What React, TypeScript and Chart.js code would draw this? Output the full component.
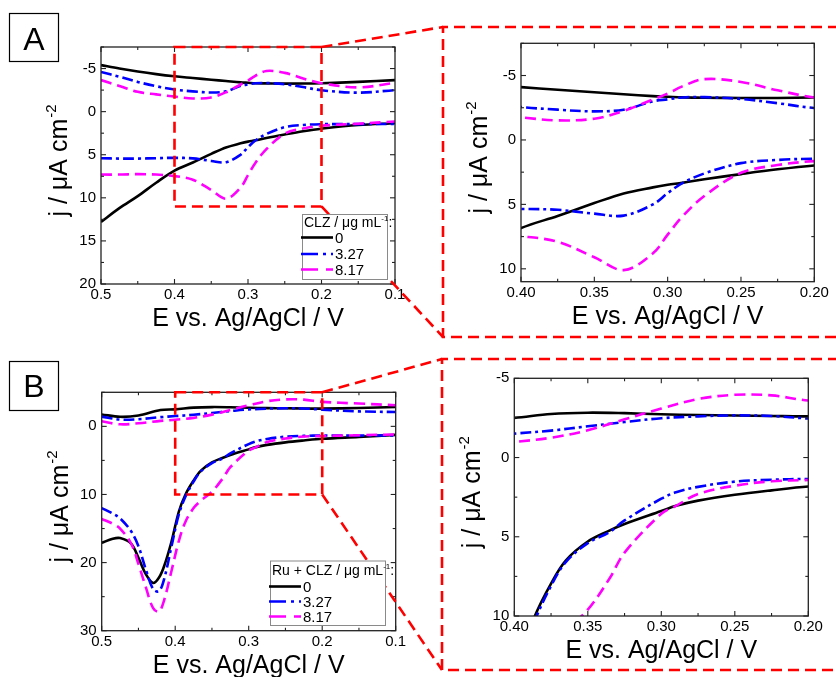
import React, { useEffect, useRef } from "react";
import { Chart, registerables } from "chart.js";
Chart.register(...registerables);

const FONT = "'Liberation Sans', Arial, Helvetica, sans-serif";

// ---------- series meta ----------
const SERIES_LABELS = ["0", "3.27", "8.17"];
const SERIES_COLORS = ["#000000", "#0000ff", "#ff00ff"];
const SERIES_DASHES: number[][] = [[], [11, 4, 3, 4], [11, 6]];
const LEGEND_DASHES: number[][] = [[], [17, 5, 3, 5], [17, 8]];

// ---------- Panel A (CLZ) ----------
const A_E = [0.5, 0.475, 0.45, 0.425, 0.4, 0.375, 0.35, 0.33, 0.31, 0.3, 0.29, 0.275, 0.25, 0.225, 0.2, 0.15, 0.1];
const A_UP_0 = [-5.4, -5.0, -4.65, -4.35, -4.1, -3.9, -3.7, -3.55, -3.4, -3.35, -3.3, -3.28, -3.25, -3.26, -3.3, -3.45, -3.66];
const A_DN_0 = [12.8, 11.2, 9.8, 8.25, 6.84, 5.9, 4.9, 4.15, 3.68, 3.48, 3.33, 3.05, 2.65, 2.28, 1.98, 1.55, 1.34];
const A_UP_1 = [-4.6, -4.05, -3.45, -2.95, -2.56, -2.35, -2.22, -2.35, -3.0, -3.15, -3.3, -3.32, -3.18, -2.85, -2.48, -2.2, -2.5];
const A_DN_1 = [5.4, 5.45, 5.45, 5.4, 5.36, 5.42, 5.72, 5.87, 5.0, 4.13, 3.35, 2.6, 1.8, 1.55, 1.46, 1.45, 1.42];
const A_UP_2 = [-3.66, -2.97, -2.3, -2.0, -1.75, -1.52, -1.65, -2.25, -3.15, -3.6, -4.16, -4.72, -4.5, -3.85, -3.3, -2.82, -3.35];
const A_DN_2 = [7.3, 7.3, 7.25, 7.3, 7.48, 7.9, 9.1, 10.1, 8.8, 7.35, 5.95, 4.35, 2.55, 1.95, 1.64, 1.4, 1.15];

// ---------- Panel B (Ru + CLZ) ----------
const B_E_UP = [0.5, 0.475, 0.45, 0.42, 0.4, 0.375, 0.35, 0.325, 0.3, 0.275, 0.25, 0.225, 0.2, 0.15, 0.1];
const B_UP_0 = [-1.75, -1.4, -1.6, -2.4, -2.5, -2.75, -2.83, -2.8, -2.73, -2.68, -2.65, -2.62, -2.6, -2.7, -2.85];
const B_UP_1 = [-1.43, -1.0, -1.05, -1.35, -1.51, -1.7, -1.97, -2.24, -2.48, -2.6, -2.66, -2.62, -2.46, -2.2, -2.1];
const B_UP_2 = [-0.75, -0.3, -0.45, -0.8, -0.98, -1.25, -1.72, -2.41, -3.09, -3.69, -3.96, -3.92, -3.6, -3.35, -3.1];
const B_E_DN = [0.5, 0.485, 0.475, 0.46, 0.45, 0.44, 0.43, 0.422, 0.415, 0.405, 0.395, 0.386, 0.375, 0.365, 0.35, 0.335, 0.325, 0.3, 0.29, 0.275, 0.25, 0.225, 0.2, 0.15, 0.1];
const B_DN_0 = [17.1, 16.5, 16.4, 17.2, 19.3, 21.7, 23.0, 22.2, 20.5, 16.9, 12.5, 10.0, 7.95, 6.5, 5.3, 4.6, 4.2, 3.38, 3.05, 2.72, 2.35, 2.07, 1.83, 1.55, 1.25];
const B_DN_1 = [12.0, 12.8, 13.5, 15.4, 17.6, 21.0, 23.9, 24.2, 22.4, 17.6, 12.9, 10.3, 8.1, 6.6, 5.4, 4.69, 3.97, 2.6, 2.19, 1.85, 1.52, 1.4, 1.35, 1.35, 1.32];
const B_DN_2 = [13.6, 14.3, 15.0, 17.2, 20.2, 23.6, 26.7, 27.2, 25.5, 21.2, 16.8, 14.0, 12.0, 10.9, 9.6, 7.6, 6.0, 3.55, 3.05, 2.3, 1.78, 1.5, 1.42, 1.3, 1.18];

// ---------- axes ----------
const MAIN_X_RANGE = [0.1, 0.5];
const ZOOM_X_RANGE = [0.2, 0.4];
const MAIN_X_TICKS = [0.5, 0.4, 0.3, 0.2, 0.1];
const ZOOM_X_TICKS = [0.4, 0.35, 0.3, 0.25, 0.2];
const A_MAIN_Y_RANGE = [-7.5, 20];
const A_MAIN_Y_TICKS = [-5, 0, 5, 10, 15, 20];
const A_ZOOM_Y_RANGE = [-7.5, 11];
const A_ZOOM_Y_TICKS = [-5, 0, 5, 10];
const B_MAIN_Y_RANGE = [-5, 30];
const B_MAIN_Y_TICKS = [0, 10, 20, 30];
const B_ZOOM_Y_RANGE = [-5, 10];
const B_ZOOM_Y_TICKS = [-5, 0, 5, 10];

const X_TITLE = "E vs. Ag/AgCl / V";
const Y_TITLE = "j / \u03bcA cm";
const Y_TITLE_SUP = "-2";

type Branch = { e: number[]; j: number[] };
const A_SERIES: Branch[][] = [
  [{ e: A_E, j: A_DN_0 }, { e: A_E, j: A_UP_0 }],
  [{ e: A_E, j: A_DN_1 }, { e: A_E, j: A_UP_1 }],
  [{ e: A_E, j: A_DN_2 }, { e: A_E, j: A_UP_2 }],
];
const B_SERIES: Branch[][] = [
  [{ e: B_E_DN, j: B_DN_0 }, { e: B_E_UP, j: B_UP_0 }],
  [{ e: B_E_DN, j: B_DN_1 }, { e: B_E_UP, j: B_UP_1 }],
  [{ e: B_E_DN, j: B_DN_2 }, { e: B_E_UP, j: B_UP_2 }],
];

interface LegendSpec { title: string; x: number; y: number; w: number; h: number; titleDy: number; rowDy: number[] }
interface DecorSpec { zoomX: number[]; zoomY: number[]; frame: { l: number; t: number; b: number }; label: { text: string; x: number; y: number; w: number; h: number; base: number } }
interface PanelSpec {
  w: number; h: number;
  area: { l: number; t: number; r: number; b: number };
  xRange: number[]; xTicks: number[]; xDec: number;
  yRange: number[]; yTicks: number[];
  series: Branch[][];
  legend?: LegendSpec;
  decor?: DecorSpec;
}

function minorOf(major: number[], range: number[]) {
  const step = Math.abs(major[1] - major[0]) / 2;
  const lo = Math.min(range[0], range[1]), hi = Math.max(range[0], range[1]);
  const out: number[] = [];
  for (let k = -60; k <= 60; k++) {
    if (k % 2 === 0) continue;
    const v = major[0] + k * step;
    if (v >= lo - 1e-9 && v <= hi + 1e-9) out.push(v);
  }
  return out;
}

function seg(ctx: CanvasRenderingContext2D, x1: number, y1: number, x2: number, y2: number) {
  ctx.beginPath(); ctx.moveTo(x1, y1); ctx.lineTo(x2, y2); ctx.stroke();
}

function makeConfig(spec: PanelSpec): any {
  const datasets: any[] = [];
  spec.series.forEach((s, i) => {
    s.forEach((b) => {
      datasets.push({
        data: b.e.map((e, k) => ({ x: e, y: b.j[k] })),
        borderColor: SERIES_COLORS[i],
        borderWidth: 2.6,
        borderDash: SERIES_DASHES[i],
        pointRadius: 0,
        pointHoverRadius: 0,
        fill: false,
        tension: 0.35,
        order: 3 - i,
      });
    });
  });

  const plugin = {
    id: "panelDecor",
    afterDraw(chart: any) {
      const { ctx, chartArea: a, scales } = chart;
      const x = scales.x, y = scales.y;
      ctx.save();
      // frame
      ctx.setLineDash([]);
      ctx.strokeStyle = "#222";
      ctx.lineWidth = 1.3;
      ctx.strokeRect(a.left, a.top, a.right - a.left, a.bottom - a.top);
      ctx.lineWidth = 1.1;
      const xt = (vals: number[], len: number) => vals.forEach((v) => {
        const p = x.getPixelForValue(v);
        seg(ctx, p, a.bottom, p, a.bottom - len);
        seg(ctx, p, a.top, p, a.top + len);
      });
      const yt = (vals: number[], len: number) => vals.forEach((v) => {
        const p = y.getPixelForValue(v);
        seg(ctx, a.left, p, a.left + len, p);
        seg(ctx, a.right, p, a.right - len, p);
      });
      xt(spec.xTicks, 5); xt(minorOf(spec.xTicks, spec.xRange), 3);
      yt(spec.yTicks, 5); yt(minorOf(spec.yTicks, spec.yRange), 3);

      // titles
      ctx.fillStyle = "#000";
      ctx.font = `25px ${FONT}`;
      ctx.textAlign = "center";
      ctx.textBaseline = "alphabetic";
      ctx.fillText(X_TITLE, (a.left + a.right) / 2, a.bottom + 42);
      ctx.save();
      ctx.translate(a.left - 34, (a.top + a.bottom) / 2);
      ctx.rotate(-Math.PI / 2);
      ctx.textAlign = "left";
      ctx.font = `25px ${FONT}`;
      const w1 = ctx.measureText(Y_TITLE).width;
      ctx.font = `15px ${FONT}`;
      const w2 = ctx.measureText(Y_TITLE_SUP).width;
      const sx = -(w1 + w2 + 1) / 2 + 5;
      ctx.font = `25px ${FONT}`;
      ctx.fillText(Y_TITLE, sx, 0);
      ctx.font = `15px ${FONT}`;
      ctx.fillText(Y_TITLE_SUP, sx + w1 + 1, -11);
      ctx.restore();

      // zoom decorations
      const d = spec.decor;
      if (d) {
        ctx.strokeStyle = "#ff0000";
        ctx.lineWidth = 2.6;
        ctx.setLineDash([11, 6]);
        const x1 = x.getPixelForValue(d.zoomX[1]);
        const x2 = x.getPixelForValue(d.zoomX[0]);
        const y1 = y.getPixelForValue(d.zoomY[0]);
        const y2 = y.getPixelForValue(d.zoomY[1]);
        ctx.strokeRect(x1, y1, x2 - x1, y2 - y1);
        seg(ctx, x2, y1, d.frame.l, d.frame.t);
        seg(ctx, x2, y2, d.frame.l, d.frame.b);
        ctx.beginPath();
        ctx.moveTo(spec.w + 20, d.frame.t);
        ctx.lineTo(d.frame.l, d.frame.t);
        ctx.lineTo(d.frame.l, d.frame.b);
        ctx.lineTo(spec.w + 20, d.frame.b);
        ctx.stroke();
        ctx.setLineDash([]);
        const L = d.label;
        ctx.strokeStyle = "#000";
        ctx.lineWidth = 1.2;
        ctx.strokeRect(L.x, L.y, L.w, L.h);
        ctx.font = `32px ${FONT}`;
        ctx.textAlign = "center";
        ctx.textBaseline = "alphabetic";
        ctx.fillStyle = "#000";
        ctx.fillText(L.text, L.x + L.w / 2, L.base);
      }

      // legend
      const G = spec.legend;
      if (G) {
        ctx.setLineDash([]);
        ctx.fillStyle = "#fff";
        ctx.fillRect(G.x, G.y, G.w, G.h);
        ctx.strokeStyle = "#8a8a8a";
        ctx.lineWidth = 1;
        ctx.strokeRect(G.x + 0.5, G.y + 0.5, G.w, G.h);
        ctx.fillStyle = "#000";
        ctx.textAlign = "left";
        ctx.textBaseline = "alphabetic";
        let tx = G.x + 2;
        const ty = G.y + G.titleDy;
        ctx.font = `14px ${FONT}`;
        ctx.fillText(G.title, tx, ty);
        tx += ctx.measureText(G.title).width;
        ctx.font = `8px ${FONT}`;
        ctx.fillText("-1", tx, ty - 6);
        tx += ctx.measureText("-1").width;
        ctx.font = `14px ${FONT}`;
        ctx.fillText(":", tx, ty);
        SERIES_LABELS.forEach((lab, i) => {
          const yy = G.y + G.rowDy[i];
          ctx.strokeStyle = SERIES_COLORS[i];
          ctx.lineWidth = 2.6;
          ctx.setLineDash(LEGEND_DASHES[i]);
          seg(ctx, G.x - 1, yy, G.x + 31, yy);
          ctx.setLineDash([]);
          ctx.fillStyle = "#000";
          ctx.font = `15px ${FONT}`;
          ctx.textBaseline = "middle";
          ctx.fillText(lab, G.x + 33, yy + 1);
        });
      }
      ctx.restore();
    },
  };

  const tickFont = { family: FONT, size: 15 };
  return {
    type: "line",
    data: { datasets },
    options: {
      animation: false,
      responsive: false,
      events: [],
      layout: { padding: { left: 0, top: spec.area.t, right: spec.w - spec.area.r, bottom: 0 } },
      plugins: { legend: { display: false }, tooltip: { enabled: false }, title: { display: false } },
      scales: {
        x: {
          type: "linear",
          reverse: true,
          min: spec.xRange[0],
          max: spec.xRange[1],
          afterBuildTicks: (s: any) => { s.ticks = spec.xTicks.map((v) => ({ value: v })); },
          afterFit: (s: any) => { s.height = spec.h - spec.area.b; },
          grid: { display: false, drawTicks: false },
          border: { display: false },
          ticks: {
            autoSkip: false, maxRotation: 0, minRotation: 0, padding: 2,
            font: tickFont, color: "#000",
            callback: (v: any) => Number(v).toFixed(spec.xDec),
          },
        },
        y: {
          type: "linear",
          reverse: true,
          min: spec.yRange[0],
          max: spec.yRange[1],
          afterBuildTicks: (s: any) => { s.ticks = spec.yTicks.map((v) => ({ value: v })); },
          afterFit: (s: any) => { s.width = spec.area.l; },
          grid: { display: false, drawTicks: false },
          border: { display: false },
          ticks: {
            autoSkip: false, padding: 5, font: tickFont, color: "#000",
            callback: (v: any) => String(v),
          },
        },
      },
    },
    plugins: [plugin],
  };
}

const A_MAIN: PanelSpec = {
  w: 836, h: 340,
  area: { l: 101, t: 47, r: 395, b: 284 },
  xRange: MAIN_X_RANGE, xTicks: MAIN_X_TICKS, xDec: 1,
  yRange: A_MAIN_Y_RANGE, yTicks: A_MAIN_Y_TICKS,
  series: A_SERIES,
  legend: { title: "CLZ / \u03bcg mL", x: 302, y: 214, w: 85, h: 65, titleDy: 12.5, rowDy: [23.5, 40, 55.5] },
  decor: { zoomX: ZOOM_X_RANGE, zoomY: A_ZOOM_Y_RANGE, frame: { l: 443, t: 27, b: 337 }, label: { text: "A", x: 9.5, y: 13.5, w: 49, h: 48, base: 50 } },
};
const A_ZOOM: PanelSpec = {
  w: 416, h: 340,
  area: { l: 101, t: 43.3, r: 394.3, b: 281.7 },
  xRange: ZOOM_X_RANGE, xTicks: ZOOM_X_TICKS, xDec: 2,
  yRange: A_ZOOM_Y_RANGE, yTicks: A_ZOOM_Y_TICKS,
  series: A_SERIES,
};
const B_MAIN: PanelSpec = {
  w: 836, h: 337,
  area: { l: 101.7, t: 52.3, r: 395.7, b: 290.7 },
  xRange: MAIN_X_RANGE, xTicks: MAIN_X_TICKS, xDec: 1,
  yRange: B_MAIN_Y_RANGE, yTicks: B_MAIN_Y_TICKS,
  series: B_SERIES,
  legend: { title: "Ru + CLZ / \u03bcg mL", x: 270, y: 220.5, w: 115, h: 64.5, titleDy: 14.5, rowDy: [26, 41, 56] },
  decor: { zoomX: ZOOM_X_RANGE, zoomY: B_ZOOM_Y_RANGE, frame: { l: 442, t: 19, b: 330 }, label: { text: "B", x: 9.5, y: 21.5, w: 49, h: 49, base: 57 } },
};
const B_ZOOM: PanelSpec = {
  w: 416, h: 337,
  area: { l: 94.3, t: 38.3, r: 388.3, b: 276 },
  xRange: ZOOM_X_RANGE, xTicks: ZOOM_X_TICKS, xDec: 2,
  yRange: B_ZOOM_Y_RANGE, yTicks: B_ZOOM_Y_TICKS,
  series: B_SERIES,
};

function Panel({ spec, left, top }: { spec: PanelSpec; left: number; top: number }) {
  const ref = useRef<HTMLCanvasElement>(null);
  useEffect(() => {
    const chart = new Chart(ref.current as HTMLCanvasElement, makeConfig(spec));
    return () => chart.destroy();
  }, [spec]);
  return (
    <canvas
      ref={ref}
      width={spec.w}
      height={spec.h}
      style={{ position: "absolute", left, top, width: spec.w, height: spec.h }}
    />
  );
}

export default function App() {
  return (
    <div style={{ position: "absolute", left: 0, top: 0, width: 836, height: 677, background: "#fff", overflow: "hidden" }}>
      <Panel spec={A_MAIN} left={0} top={0} />
      <Panel spec={B_MAIN} left={0} top={340} />
      <Panel spec={A_ZOOM} left={420} top={0} />
      <Panel spec={B_ZOOM} left={420} top={340} />
    </div>
  );
}
